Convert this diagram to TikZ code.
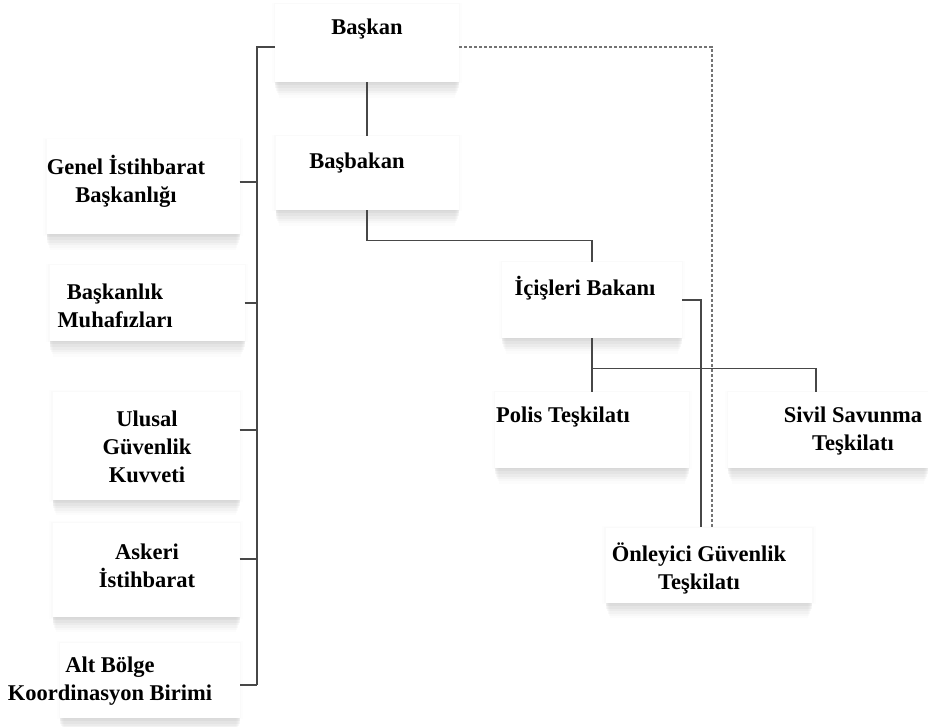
\documentclass[tikz,border=0pt]{standalone}
\usepackage{fontspec}
\setmainfont{Liberation Serif}
\usetikzlibrary{shadows}
\tikzset{
  unit/.style={fill=white, inner sep=0pt,
    drop shadow={shadow xshift=0pt, shadow yshift=0pt, opacity=.02, shadow scale=1.035},
    drop shadow={shadow xshift=0pt, shadow yshift=0pt, opacity=.025, shadow scale=1.015},
    drop shadow={shadow xshift=0pt, shadow yshift=-3pt, opacity=.08},
    drop shadow={shadow xshift=0pt, shadow yshift=-6pt, opacity=.07},
    drop shadow={shadow xshift=0pt, shadow yshift=-9pt, opacity=.06, shadow scale=.99},
    drop shadow={shadow xshift=0pt, shadow yshift=-12pt, opacity=.05, shadow scale=.98},
    drop shadow={shadow xshift=0pt, shadow yshift=-15pt, opacity=.035, shadow scale=.97},
    drop shadow={shadow xshift=0pt, shadow yshift=-18pt, opacity=.025, shadow scale=.96}},
  unittext/.style={font=\bfseries\fontsize{22.5}{28}\selectfont, align=center, inner sep=0pt},
  link/.style={draw=black!72, line width=1.2pt},
  dotlink/.style={draw=black!55, line width=1.2pt, dash pattern=on 3pt off 2pt}
}
\begin{document}
\begin{tikzpicture}[x=1pt,y=-1pt]
\useasboundingbox (0,0) rectangle (928,727);
% boxes
\node[unit, minimum width=184pt, minimum height=78pt] (baskan) at (367,43) {};
\node[unit, minimum width=183pt, minimum height=74pt] (basbakan) at (367,173) {};
\node[unit, minimum width=180pt, minimum height=76pt] (icisleri) at (592,300) {};
\node[unit, minimum width=194pt, minimum height=76pt] (polis) at (592,430) {};
\node[unit, minimum width=200pt, minimum height=76pt] (sivil) at (828,430) {};
\node[unit, minimum width=206pt, minimum height=75pt] (onleyici) at (709,565) {};
\node[unit, minimum width=193pt, minimum height=95pt] (genel) at (143,187) {};
\node[unit, minimum width=195pt, minimum height=76pt] (muhafiz) at (147,303) {};
\node[unit, minimum width=187pt, minimum height=108pt] (ulusal) at (146,446) {};
\node[unit, minimum width=187pt, minimum height=94pt] (askeri) at (146,570) {};
\node[unit, minimum width=180pt, minimum height=75pt] (altbolge) at (150,680) {};
% texts
\node[unittext] (baskan-t) at (367,29) {Başkan};
\node[unittext] (basbakan-t) at (357,163) {Başbakan};
\node[unittext] (icisleri-t) at (585,288) {İçişleri Bakanı};
\node[unittext] (polis-t) at (563,417) {Polis Teşkilatı};
\node[unittext] (sivil-t) at (853,431) {Sivil Savunma\\Teşkilatı};
\node[unittext] (onleyici-t) at (699,568) {Önleyici Güvenlik\\Teşkilatı};
\node[unittext] (genel-t) at (126,181) {Genel İstihbarat\\Başkanlığı};
\node[unittext] (muhafiz-t) at (115,306) {Başkanlık\\Muhafızları};
\node[unittext] (ulusal-t) at (147,447) {Ulusal\\Güvenlik\\Kuvveti};
\node[unittext] (askeri-t) at (147,566) {Askeri\\İstihbarat};
\node[unittext] (altbolge-t) at (110,681) {Alt Bölge\\Koordinasyon Birimi};
% connectors
\coordinate (spine) at (257,47);
\draw[link] (baskan.south) -- (basbakan.north);
\draw[link] (basbakan.south) -- ++(0,30) -| (icisleri.north);
\draw[link] (icisleri.south) -- ++(0,30) coordinate (split) -| (polis.north);
\draw[link] (split) -| ([xshift=-12pt]sivil.north);
\draw[link] (icisleri.east) -| ([xshift=-8pt]onleyici.north);
\draw[dotlink] (baskan.east |- spine) -| ([xshift=3pt]onleyici.north);
\draw[link] (baskan.west |- spine) -- (spine) -- (spine |- 0,685);
\foreach \n/\y in {genel/182, muhafiz/303, ulusal/430, askeri/559, altbolge/685}
  \draw[link] (\n.east |- 0,\y) -- (spine |- 0,\y);
\end{tikzpicture}
\end{document}
